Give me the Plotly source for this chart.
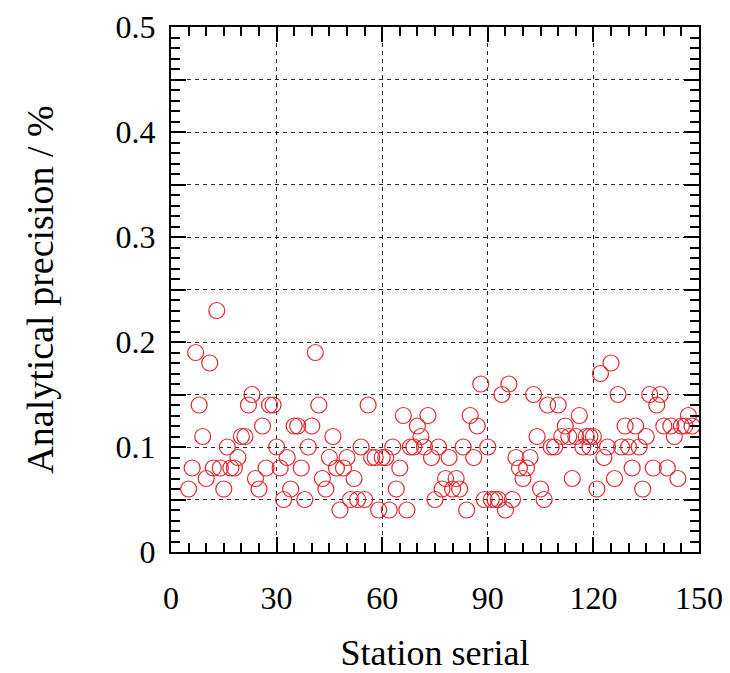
import plotly.graph_objects as go

# Station serial numbers and their analytical precision (%)
station = [
    5, 6, 7, 8, 9, 10, 11, 12, 13, 14, 15, 16, 17, 18, 19, 20, 21, 22, 23, 24,
    25, 26, 27, 28, 29, 30, 31, 32, 33, 34, 35, 36, 37, 38, 39, 40, 41, 42, 43, 44,
    45, 46, 47, 48, 49, 50, 51, 52, 53, 54, 55, 56, 57, 58, 59, 60, 61, 62, 63, 64,
    65, 66, 67, 68, 69, 70, 71, 72, 73, 74, 75, 76, 77, 78, 79, 80, 81, 82, 83, 84,
    85, 86, 87, 88, 89, 90, 91, 92, 93, 94, 95, 96, 97, 98, 99, 100, 101, 102, 103, 104,
    105, 106, 107, 108, 109, 110, 111, 112, 113, 114, 115, 116, 117, 118, 119, 119, 120, 121, 122, 123,
    124, 125, 126, 127, 128, 129, 130, 131, 132, 133, 134, 135, 136, 137, 138, 139, 140, 141, 142, 143,
    144, 145, 146, 147, 148,
]
precision = [
    0.06, 0.08, 0.19, 0.14, 0.11, 0.07, 0.18, 0.08, 0.23, 0.08, 0.06, 0.10, 0.08, 0.08, 0.09, 0.11, 0.11, 0.14, 0.15, 0.07,
    0.06, 0.12, 0.08, 0.14, 0.14, 0.10, 0.08, 0.05, 0.09, 0.06, 0.12, 0.12, 0.08, 0.05, 0.10, 0.12, 0.19, 0.14, 0.07, 0.06,
    0.09, 0.11, 0.08, 0.04, 0.08, 0.09, 0.05, 0.07, 0.05, 0.10, 0.05, 0.14, 0.09, 0.09, 0.04, 0.09, 0.09, 0.04, 0.10, 0.06,
    0.08, 0.13, 0.04, 0.10, 0.10, 0.12, 0.11, 0.10, 0.13, 0.09, 0.05, 0.10, 0.06, 0.07, 0.09, 0.06, 0.07, 0.06, 0.10, 0.04,
    0.13, 0.09, 0.12, 0.16, 0.05, 0.10, 0.05, 0.05, 0.05, 0.15, 0.04, 0.16, 0.05, 0.09, 0.08, 0.07, 0.08, 0.09, 0.15, 0.11,
    0.06, 0.05, 0.14, 0.10, 0.10, 0.14, 0.11, 0.12, 0.11, 0.07, 0.11, 0.13, 0.10, 0.11, 0.11, 0.10, 0.11, 0.06, 0.17, 0.09,
    0.10, 0.18, 0.07, 0.15, 0.10, 0.12, 0.10, 0.08, 0.12, 0.10, 0.06, 0.11, 0.15, 0.08, 0.14, 0.15, 0.12, 0.08, 0.12, 0.11,
    0.07, 0.12, 0.12, 0.13, 0.12,
]

x_ticks = [0, 30, 60, 90, 120, 150]
y_ticks = [0, 0.05, 0.1, 0.15, 0.2, 0.25, 0.3, 0.35, 0.4, 0.45, 0.5]
y_labels = ["0", "", "0.1", "", "0.2", "", "0.3", "", "0.4", "", "0.5"]

serif = '"Liberation Serif", "Times New Roman", Times, serif'
grid_color = "#2a2a2a"

fig = go.Figure(
    go.Scatter(
        x=station,
        y=precision,
        mode="markers",
        marker=dict(
            symbol="circle-open",
            size=16,
            color="rgb(226,38,44)",
            line=dict(width=1.2, color="rgb(226,38,44)"),
        ),
        showlegend=False,
    )
)

axis_common = dict(
    showline=True,
    linecolor="black",
    linewidth=2,
    mirror="allticks",
    ticks="inside",
    ticklen=15,
    tickwidth=2,
    tickcolor="black",
    showgrid=True,
    gridcolor=grid_color,
    gridwidth=1,
    griddash="4px,4px",
    zeroline=False,
    automargin=False,
    tickfont=dict(family=serif, size=32, color="black"),
)

fig.update_xaxes(
    **axis_common,
    range=[0, 150],
    tickmode="array",
    tickvals=x_ticks,
    ticktext=[str(v) for v in x_ticks],
    ticklabelstandoff=17,
    minor=dict(dtick=5, ticks="inside", ticklen=9, tickwidth=2, tickcolor="black", showgrid=False),
    title=dict(text="Station serial", font=dict(family=serif, size=36, color="black"), standoff=30),
)

fig.update_yaxes(
    **axis_common,
    range=[0, 0.5],
    tickmode="array",
    tickvals=y_ticks,
    ticktext=y_labels,
    ticklabelstandoff=7,
    minor=dict(dtick=0.01, ticks="inside", ticklen=9, tickwidth=2, tickcolor="black", showgrid=False),
    title=dict(text="Analytical precision / %", font=dict(family=serif, size=38, color="black"), standoff=50),
)

fig.update_layout(
    width=730,
    height=673,
    margin=dict(l=171, r=31, t=27, b=121),
    plot_bgcolor="white",
    paper_bgcolor="white",
    font=dict(family=serif, color="black"),
)

fig.write_html("out.html")
